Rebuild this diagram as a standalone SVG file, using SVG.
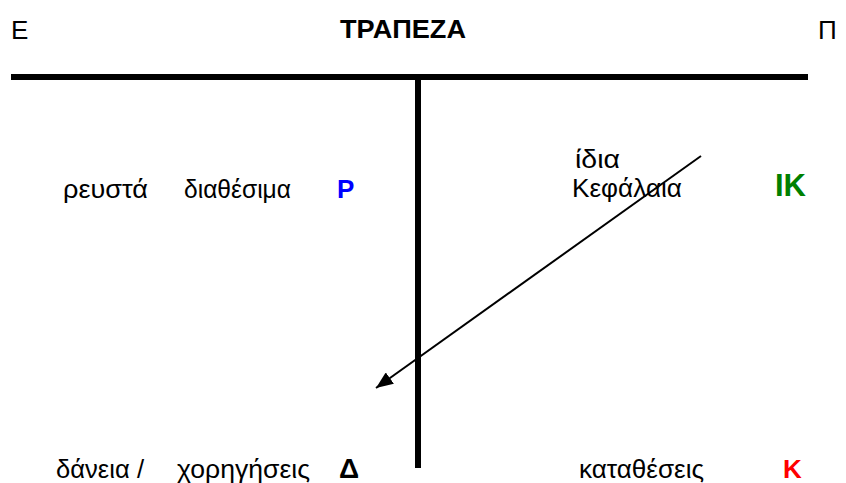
<svg xmlns="http://www.w3.org/2000/svg" width="846" height="483" viewBox="0 0 846 483">
<style>
text{font-family:"Liberation Sans",Arial,sans-serif;font-size:26px;fill:#000}
.b{font-weight:bold}
.bar{stroke:#000;stroke-width:6;fill:none}
.arr{stroke:#000;stroke-width:2;fill:none}
</style>
<defs>
<marker id="ah" markerUnits="userSpaceOnUse" markerWidth="18" markerHeight="14" refX="17" refY="7" orient="auto">
<path d="M0,0 L17,7 L0,14 Z" fill="#000"/>
</marker>
</defs>
<g id="header">
<text x="11" y="39">Ε</text>
<text class="b" x="340" y="38" textLength="126" lengthAdjust="spacingAndGlyphs">ΤΡΑΠΕΖΑ</text>
<text x="818" y="39">Π</text>
</g>
<g id="t-account">
<line class="bar" x1="11" y1="77" x2="808" y2="77"/>
<line class="bar" x1="418" y1="77" x2="418" y2="468"/>
</g>
<g id="node-reserves">
<text x="63" y="198" textLength="85" lengthAdjust="spacingAndGlyphs">ρευστά</text>
<text x="184" y="198" textLength="107" lengthAdjust="spacingAndGlyphs">διαθέσιμα</text>
<text class="b" x="337" y="198" style="fill:#0000FF">Ρ</text>
</g>
<g id="node-equity">
<text x="575" y="168" textLength="45" lengthAdjust="spacingAndGlyphs">ίδια</text>
<text x="572" y="197" textLength="110" lengthAdjust="spacingAndGlyphs">Κεφάλαια</text>
<text class="b" x="775" y="196" style="fill:#008000;font-size:31px">ΙΚ</text>
</g>
<g id="node-loans">
<text x="56" y="478" textLength="88" lengthAdjust="spacingAndGlyphs">δάνεια /</text>
<text x="177" y="478" textLength="133" lengthAdjust="spacingAndGlyphs">χορηγήσεις</text>
<text class="b" x="339" y="478" style="font-size:28px">Δ</text>
</g>
<g id="node-deposits">
<text x="579" y="478" textLength="125" lengthAdjust="spacingAndGlyphs">καταθέσεις</text>
<text class="b" x="783" y="478" style="fill:#FF0000">Κ</text>
</g>
<g id="connectors">
<line class="arr" x1="701" y1="156" x2="376" y2="388" marker-end="url(#ah)"/>
</g>
</svg>
